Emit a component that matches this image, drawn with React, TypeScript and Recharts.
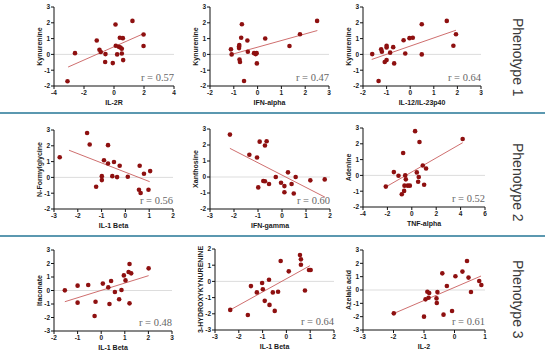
import React from "react";
import {
  ScatterChart,
  Scatter,
  XAxis,
  YAxis,
  ReferenceLine,
  Label,
} from "recharts";

// [x, y] pairs
const kynIl2r = [
  [-3.1, -1.7], [-2.6, 0.08], [-1.15, 0.88], [-0.97, 0.29], [-0.88, 0.15],
  [-0.57, 0.02], [-0.59, -0.48], [-0.08, -0.55], [0.1, 1.89], [0.12, 0.55],
  [0.21, 0.0], [0.32, 0.48], [0.39, 1.05], [0.43, 0.44], [0.52, 0.36],
  [0.59, 1.03], [0.52, 0.06], [0.61, -0.36], [1.23, 2.12], [1.97, 1.26],
  [1.97, 0.53],
];
const kynIfna = [
  [-1.12, 0.32], [-1.09, 0.0], [-0.78, 0.5], [-0.78, 0.4], [-0.77, 0.59],
  [-0.76, -0.32], [-0.74, -0.48], [-0.69, 1.05], [-0.66, 1.91], [-0.57, -1.68],
  [-0.43, 0.88], [-0.41, 0.17], [-0.15, 0.08], [-0.08, 0.02], [-0.04, 0.08],
  [-0.03, -0.57], [0.32, 1.01], [1.34, 0.53], [1.78, 1.28], [2.5, 2.12],
];
const kynIl12 = [
  [-1.61, 0.02], [-1.23, 0.32], [-1.2, 0.17], [-1.34, -1.68], [-1.08, -0.48],
  [-1.0, -0.36], [-1.0, 0.55], [-1.0, 0.44], [-0.85, 0.11], [-0.72, 0.46],
  [-0.68, -0.57], [-0.28, 0.9], [-0.21, 0.06], [-0.03, 1.03], [0.11, 1.05],
  [0.49, 1.91], [0.49, 0.0], [1.55, 2.12], [1.83, 0.55], [1.94, 1.28],
];
const nfgIl1b = [
  [-2.76, 1.28], [-1.61, 2.81], [-1.5, 2.08], [-1.23, -0.59], [-0.99, 0.08],
  [-0.99, -0.17], [-0.9, 1.09], [-0.73, 2.04], [-0.73, 0.88], [-0.55, 0.08],
  [-0.48, 0.97], [-0.35, 0.02], [-0.24, 0.74], [0.1, 0.04], [0.57, -0.78],
  [0.64, -0.99], [0.6, 0.74], [0.78, 0.23], [0.97, -0.78], [1.04, 0.4],
];
const xanIfng = [
  [-2.17, 2.65], [-1.36, 1.39], [-1.04, 1.22], [-0.99, -0.65], [-0.93, 2.21],
  [-0.78, -0.25], [-0.71, -0.27], [-0.71, 1.97], [-0.64, 2.23], [-0.54, -0.44],
  [-0.26, 0.0], [-0.04, -0.36], [0.1, -0.57], [0.1, -0.95], [0.25, 0.29],
  [0.4, -0.44], [0.49, -1.03], [0.57, 0.0], [1.18, -0.21], [1.78, -0.15],
];
const adeTnfa = [
  [-2.13, -0.71], [-1.47, 0.21], [-1.09, -0.02], [-0.82, -1.19], [-0.71, 1.42],
  [-0.63, -0.98], [-0.6, -0.65], [-0.54, 0.0], [-0.49, -0.25], [-0.33, -0.65],
  [-0.16, -0.65], [0.27, 2.8], [0.41, 0.19], [0.52, -0.4], [0.57, -0.1],
  [0.63, 2.11], [0.9, 0.63], [1.01, -0.59], [1.17, 0.44], [4.17, 2.3],
];
const itaIl1b = [
  [-1.54, 0.01], [-1.0, 0.36], [-1.0, -0.9], [-0.55, 0.41], [-0.28, -1.89],
  [-0.24, -0.83], [0.07, 0.51], [0.3, 0.23], [0.42, 0.7], [0.35, -1.0],
  [0.58, -0.11], [0.76, -0.65], [0.86, 0.04], [0.96, 1.12], [1.03, 0.75],
  [1.16, 1.37], [1.2, 1.96], [1.2, -0.95], [1.27, 1.27], [2.01, 1.64],
];
const hkIl1b = [
  [-2.36, -1.76], [-1.62, -2.07], [-1.49, -0.29], [-1.24, -0.68], [-1.02, -0.1],
  [-0.99, -0.48], [-0.91, -1.2], [-0.73, 0.1], [-0.71, -1.45], [-0.57, -0.68],
  [-0.49, -1.82], [-0.35, -0.64], [-0.24, 1.26], [0.1, 0.62], [0.57, 1.63],
  [0.61, 1.36], [0.61, 1.03], [0.78, -0.56], [0.95, 0.7], [1.02, 0.7],
];
const azeIl2 = [
  [-1.99, -1.75], [-1.0, -2.0], [-0.95, -0.7], [-0.89, -0.13], [-0.85, -0.58],
  [-0.83, -0.23], [-0.59, -0.63], [-0.58, -0.98], [-0.56, -0.15], [-0.4, 1.25],
  [-0.36, -1.85], [-0.25, 0.3], [-0.08, -1.58], [0.03, 1.03], [0.26, 1.38],
  [0.41, 2.18], [0.46, 0.93], [0.54, -0.15], [0.81, 0.68], [0.88, 0.38],
];

// regression line end points [x1, y1, x2, y2]
const fits = [
  [-3.06, -0.8, 1.99, 1.32],
  [-1.09, 0.0, 2.51, 1.51],
  [-1.63, -0.32, 1.94, 1.53],
  [-2.37, 1.72, 1.02, -0.27],
  [-2.17, 1.79, 1.79, -1.26],
  [-2.13, -0.73, 4.17, 2.07],
  [-1.54, -0.83, 2.01, 1.1],
  [-2.36, -1.76, 0.99, 0.97],
  [-1.98, -1.75, 0.87, 1.05],
];

const rValues = ["0.57", "0.47", "0.64", "0.56", "0.60", "0.52", "0.48", "0.64", "0.61"];
const xLabels = ["IL-2R", "IFN-alpha", "IL-12/IL-23p40", "IL-1 Beta", "IFN-gamma", "TNF-alpha", "IL-1 Beta", "IL-1 Beta", "IL-2"];
const yLabels = ["Kynurenine", "Kynurenine", "Kynurenine", "N-Formylglycine", "Xanthosine", "Adenine", "Itaconate", "3-HYDROXYKYNURENINE", "Azelaic acid"];
const xTickSets = [
  [-4, -2, 0, 2, 4],
  [-2, -1, 0, 1, 2, 3],
  [-2, -1, 0, 1, 2, 3],
  [-3, -2, -1, 0, 1, 2],
  [-3, -2, -1, 0, 1, 2],
  [-4, -2, 0, 2, 4, 6],
  [-2, -1, 0, 1, 2, 3],
  [-3, -2, -1, 0, 1, 2],
  [-3, -2, -1, 0, 1],
];
const yTickSets = [
  [-2, -1, 0, 1, 2, 3],
  [-2, -1, 0, 1, 2, 3],
  [-2, -1, 0, 1, 2, 3],
  [-2, -1, 0, 1, 2, 3],
  [-2, -1, 0, 1, 2, 3],
  [-2, -1, 0, 1, 2, 3],
  [-3, -2, -1, 0, 1, 2, 3],
  [-3, -2, -1, 0, 1, 2],
  [-3, -2, -1, 0, 1, 2, 3],
];
const series = [kynIl2r, kynIfna, kynIl12, nfgIl1b, xanIfng, adeTnfa, itaIl1b, hkIl1b, azeIl2];
const phenotypes = ["Phenotype 1", "Phenotype 2", "Phenotype 3"];

// plot boxes on the page: [left, top, width, height]
const boxes = [
  [54, 7, 120, 79],
  [210, 7, 119, 79],
  [363, 7, 118, 79],
  [54, 130, 119, 79],
  [210, 129, 120, 80],
  [363, 128, 122, 79],
  [54, 250, 118, 81],
  [215, 249, 119, 81],
  [363, 250, 122, 80],
];

const AX = 54;
const TOP = 6;
const RIGHT = 8;
const BOT = 28;
const SANS = "'Liberation Sans', Arial, sans-serif";
const tickStyle = { fontSize: 6.5, fontWeight: 700, fill: "#1a1a1a", fontFamily: SANS };

function Panel({ i }: { i: number }) {
  const [px, py, pw, ph] = boxes[i];
  const xt = xTickSets[i];
  const yt = yTickSets[i];
  const [x1, y1, x2, y2] = fits[i];
  const data = series[i].map(([x, y]) => ({ x, y }));
  return (
    <div style={{ position: "absolute", left: px - AX, top: py - TOP }}>
      <ScatterChart
        width={pw + AX + RIGHT}
        height={ph + TOP + BOT}
        margin={{ top: TOP, right: RIGHT, left: 0, bottom: 0 }}
      >
        <XAxis
          type="number"
          dataKey="x"
          domain={[xt[0], xt[xt.length - 1]]}
          ticks={xt}
          height={BOT}
          tick={tickStyle}
          tickSize={3}
          tickMargin={1}
          stroke="#111"
          interval={0}
          allowDataOverflow
        >
          <Label
            value={xLabels[i]}
            position="insideBottom"
            offset={9}
            style={{ fontSize: 7, fontWeight: 700, fill: "#1a1a1a", fontFamily: SANS }}
          />
        </XAxis>
        <YAxis
          type="number"
          dataKey="y"
          domain={[yt[0], yt[yt.length - 1]]}
          ticks={yt}
          width={AX}
          tick={tickStyle}
          tickSize={3}
          tickMargin={1}
          stroke="#111"
          interval={0}
          allowDataOverflow
        >
          <Label
            value={yLabels[i]}
            angle={-90}
            position="insideRight"
            offset={14}
            style={{ textAnchor: "middle", fontSize: 7, fontWeight: 700, fill: "#1a1a1a", fontFamily: SANS }}
          />
        </YAxis>
        <ReferenceLine y={0} stroke="#cfcfcf" strokeWidth={0.7} />
        <ReferenceLine
          segment={[{ x: x1, y: y1 }, { x: x2, y: y2 }]}
          stroke="#cf6f6f"
          strokeWidth={1}
          ifOverflow="visible"
        />
        <Scatter
          data={data}
          fill="#8e1010"
          isAnimationActive={false}
          shape={(p: any) => <circle cx={p.cx} cy={p.cy} r={2.3} fill="#8e1010" />}
        />
      </ScatterChart>
      <div
        style={{
          position: "absolute",
          left: AX,
          top: TOP + ph - 14,
          width: pw,
          textAlign: "right",
          fontFamily: "'Liberation Serif', 'Times New Roman', serif",
          fontSize: 10.5,
          color: "#666",
          lineHeight: "12px",
        }}
      >
        r = {rValues[i]}
      </div>
    </div>
  );
}

export default function App() {
  return (
    <div style={{ position: "fixed", left: 0, top: 0, width: 550, height: 353, background: "#fff", overflow: "hidden" }}>
      {series.map((_, i) => (
        <Panel key={i} i={i} />
      ))}
      {[113, 236].map((y) => (
        <div key={y} style={{ position: "absolute", left: 0, top: y - 1, width: 545, height: 2, background: "#5b98b0" }} />
      ))}
      {phenotypes.map((t, k) => (
        <div
          key={t}
          style={{
            position: "absolute",
            left: 508,
            top: [57, 182, 299][k] - 40,
            height: 80,
            width: 20,
            writingMode: "vertical-rl",
            textAlign: "center",
            fontFamily: SANS,
            fontSize: 14,
            color: "#3a3a3a",
            lineHeight: "20px",
          }}
        >
          {t}
        </div>
      ))}
    </div>
  );
}
